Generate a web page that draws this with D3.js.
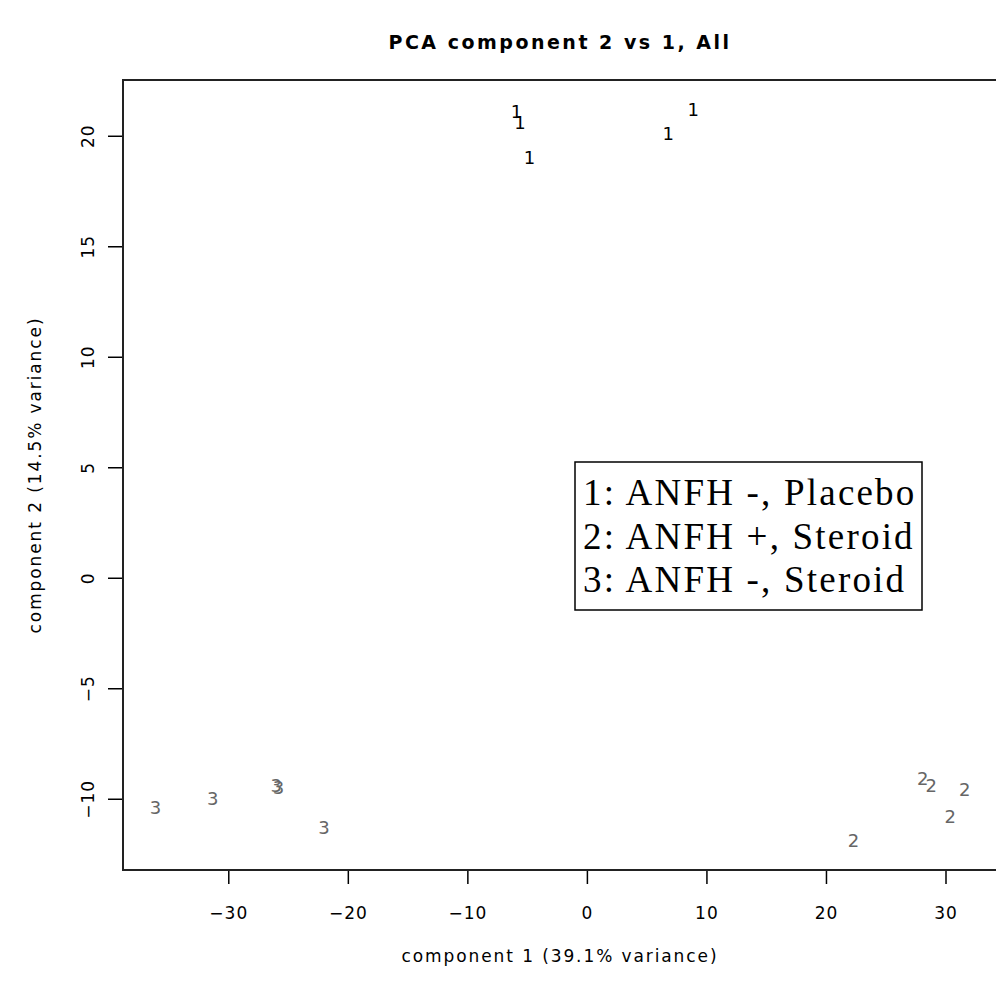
<!DOCTYPE html>
<html>
<head>
<meta charset="utf-8">
<script src="https://cdn.jsdelivr.net/npm/d3@7"></script>
<style>
  body { margin: 0; background: #fff; }
  svg { display: block; }
</style>
</head>
<body>
<div id="chart"></div>
<script>
// PCA scores, one entry per sample
var pc1 = [-5.9, -5.6, -4.8, 6.8, 8.9,
           28.1, 28.8, 31.6, 30.4, 22.3,
           -36.1, -31.3, -26.0, -25.8, -22.0];
var pc2 = [21.1, 20.6, 19.0, 20.1, 21.2,
           -9.1, -9.4, -9.6, -10.8, -11.9,
           -10.4, -10.0, -9.4, -9.5, -11.3];
var group = [1, 1, 1, 1, 1,
             2, 2, 2, 2, 2,
             3, 3, 3, 3, 3];

var xTicks = [-30, -20, -10, 0, 10, 20, 30];
var yTicks = [-10, -5, 0, 5, 10, 15, 20];

var legendLines = ["1: ANFH -, Placebo", "2: ANFH +, Steroid", "3: ANFH -, Steroid"];
var groupColor = {1: "#000000", 2: "#666666", 3: "#666666"};

var title = "PCA component 2 vs 1, All";
var xLabel = "component 1 (39.1% variance)";
var yLabel = "component 2 (14.5% variance)";

var width = 996, height = 987;
var plot = {left: 123, right: 997, top: 80, bottom: 870};

// R style axis limits: data range padded by 4%
function padRange(v) {
    var ext = d3.extent(v);
    var pad = (ext[1] - ext[0]) * 0.04;
    return [ext[0] - pad, ext[1] + pad];
}

var x_scale = d3.scaleLinear().domain(padRange(pc1)).range([plot.left, plot.right]);
var y_scale = d3.scaleLinear().domain(padRange(pc2)).range([plot.bottom, plot.top]);

var svg = d3.select("#chart").append("svg")
    .attr("width", width)
    .attr("height", height);

var font = "'DejaVu Sans', sans-serif";
var minusFmt = function(d) { return d < 0 ? "\u2212" + Math.abs(d) : d; };

// title
svg.append("text")
    .attr("x", (plot.left + plot.right) / 2)
    .attr("y", 49)
    .attr("text-anchor", "middle")
    .style("font-family", font)
    .style("font-weight", "bold")
    .style("font-size", "19px")
    .style("letter-spacing", "2.5px")
    .text(title);

// x axis
var x_axis = d3.axisBottom(x_scale)
    .tickValues(xTicks)
    .tickSize(13)
    .tickPadding(23)
    .tickFormat(minusFmt);

var gx = svg.append("g")
    .attr("transform", "translate(0," + (plot.bottom + 1) + ")")
    .call(x_axis);
gx.select(".domain").remove();
gx.selectAll("line").attr("stroke", "#000").attr("stroke-width", 1.5);
gx.selectAll("text")
    .style("font-family", font)
    .style("font-size", "17px")
    .style("letter-spacing", "1px")
    .attr("fill", "#000");

// y axis, labels rotated like R
var y_axis = d3.axisLeft(y_scale)
    .tickValues(yTicks)
    .tickSize(14)
    .tickFormat(minusFmt);

var gy = svg.append("g")
    .attr("transform", "translate(" + (plot.left - 1) + ",0)")
    .call(y_axis);
gy.select(".domain").remove();
gy.selectAll("line").attr("stroke", "#000").attr("stroke-width", 1.5);
gy.selectAll("text")
    .attr("x", 0)
    .attr("dy", null)
    .attr("text-anchor", "middle")
    .attr("transform", "translate(-28,0) rotate(-90)")
    .style("font-family", font)
    .style("font-size", "17px")
    .style("letter-spacing", "1px")
    .attr("fill", "#000");

// plot box
svg.append("rect")
    .attr("x", plot.left)
    .attr("y", plot.top)
    .attr("width", plot.right - plot.left)
    .attr("height", plot.bottom - plot.top)
    .attr("fill", "none")
    .attr("stroke", "#222")
    .attr("stroke-width", 2);

// axis titles
svg.append("text")
    .attr("x", (plot.left + plot.right) / 2)
    .attr("y", 962)
    .attr("text-anchor", "middle")
    .style("font-family", font)
    .style("font-size", "17px")
    .style("letter-spacing", "1.9px")
    .text(xLabel);

svg.append("text")
    .attr("transform", "translate(41," + ((plot.top + plot.bottom) / 2) + ") rotate(-90)")
    .attr("text-anchor", "middle")
    .style("font-family", font)
    .style("font-size", "17px")
    .style("letter-spacing", "1.9px")
    .text(yLabel);

// points drawn as group numbers
svg.append("g").selectAll("text")
    .data(pc1)
    .enter()
    .append("text")
    .attr("x", function(d) { return x_scale(d); })
    .attr("y", function(d, i) { return y_scale(pc2[i]); })
    .attr("text-anchor", "middle")
    .attr("dominant-baseline", "central")
    .attr("fill", function(d, i) { return groupColor[group[i]]; })
    .style("font-family", font)
    .style("font-size", "18px")
    .text(function(d, i) { return group[i]; });

// legend
var legend = svg.append("g").attr("class", "legend");
legend.append("rect")
    .attr("x", 575)
    .attr("y", 462)
    .attr("width", 347)
    .attr("height", 148)
    .attr("fill", "#fff")
    .attr("stroke", "#000")
    .attr("stroke-width", 1.5);

legend.selectAll("text")
    .data(legendLines)
    .enter()
    .append("text")
    .attr("x", 583)
    .attr("y", function(d, i) { return 505 + i * 43.5; })
    .style("font-family", "'Liberation Serif', 'Times New Roman', serif")
    .style("font-size", "37px")
    .style("letter-spacing", "2.2px")
    .text(function(d) { return d; });
</script>
</body>
</html>
